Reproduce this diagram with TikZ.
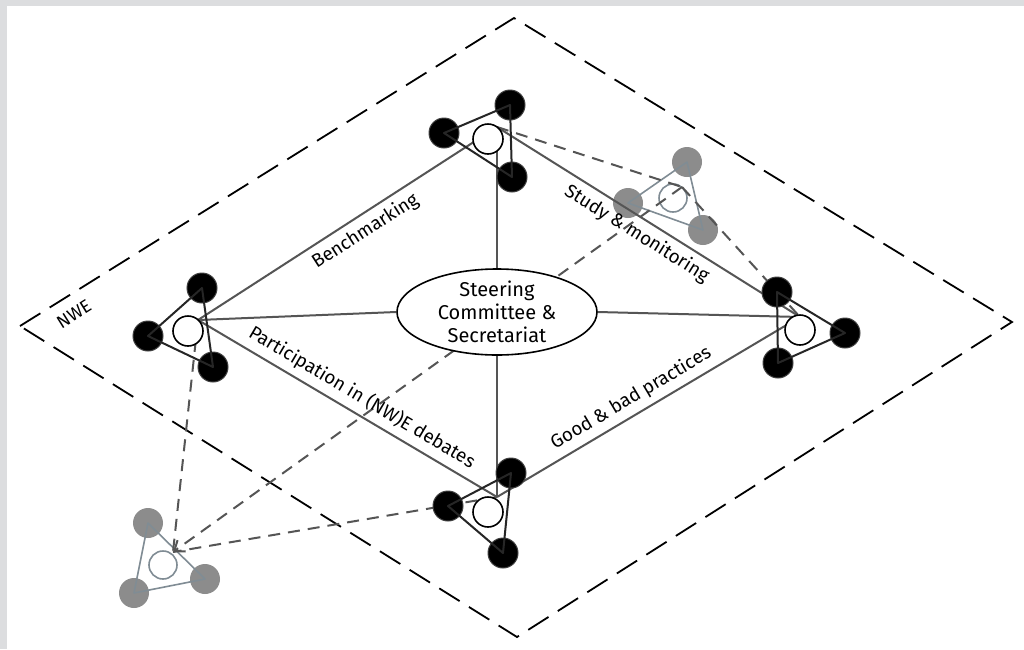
\documentclass[tikz,border=0pt]{standalone}
\usepackage{fontspec}
\setmainfont{Fira Sans}
\usetikzlibrary{arrows.meta,shapes.geometric}

\definecolor{frameGrey}{RGB}{220,221,223}
\definecolor{spokeGrey}{RGB}{85,85,85}
\definecolor{dotGrey}{RGB}{140,140,140}
\definecolor{rimGrey}{RGB}{128,140,148}

\begin{document}
\begin{tikzpicture}[
        x=0.5pt, y=-0.5pt,
        every node/.style={font=\fontsize{9.4}{11}\selectfont},
        nweBorder/.style={black, line width=0.9pt, dash pattern=on 12pt off 5.5pt},
        spokeLine/.style={spokeGrey, line width=1pt},
        linkLine/.style={spokeGrey, line width=1pt, dash pattern=on 6pt off 4pt},
        memberDot/.style={circle, fill=black, draw=black!75, line width=0.5pt, minimum size=15pt, inner sep=0pt},
        hubDot/.style={circle, fill=white, draw=black, line width=0.8pt, minimum size=15pt, inner sep=0pt},
        ghostDot/.style={circle, fill=dotGrey, minimum size=15pt, inner sep=0pt},
        ghostHub/.style={circle, draw=rimGrey, line width=0.8pt, minimum size=14pt, inner sep=0pt},
        triLine/.style={black!85, line width=1pt, line join=round},
        ghostTri/.style={rimGrey, line width=0.8pt, line join=round},
        edgeLabel/.style={sloped, text=black, inner sep=3pt}
    ]
        % frame
        \fill[frameGrey] (0,0) rectangle (1024,649);
        \fill[white] (7,6) rectangle (1024,649);
        \useasboundingbox (0,0) rectangle (1024,649);

        % NWE area
        \coordinate (nweW) at (20,326);
        \coordinate (nweN) at (514,18);
        \coordinate (nweE) at (1012,322);
        \coordinate (nweS) at (517,637);
        \draw[nweBorder] (nweW) -- (nweN) -- (nweE) -- (nweS) -- cycle;
        \node[rotate=32, font=\fontsize{9}{10}\selectfont] (nweLabel) at (74,314) {NWE};

        % meeting points of the links
        \coordinate (hubW) at (198,320);
        \coordinate (hubN) at (497,127);
        \coordinate (hubE) at (800,317);
        \coordinate (hubS) at (497,497);
        \coordinate (ghostHubNE) at (682,187);
        \coordinate (ghostHubSW) at (173,552);

        % outside partners, grey
        \foreach \cl/\ox/\oy/\ax/\ay/\bx/\by/\cx/\cy in {
            NE/673/198/687/162/628/203/703/230,
            SW/163/565/148/523/134/593/205/579}{
            \node[ghostDot] (ghostA\cl) at (\ax,\ay) {};
            \node[ghostDot] (ghostB\cl) at (\bx,\by) {};
            \node[ghostDot] (ghostC\cl) at (\cx,\cy) {};
            \draw[ghostTri] (ghostA\cl.center) -- (ghostB\cl.center) -- (ghostC\cl.center) -- cycle;
            \node[ghostHub] (ghostOpen\cl) at (\ox,\oy) {};
        }

        % dashed exchange links
        \draw[linkLine] (hubN) -- (ghostHubNE);
        \draw[linkLine] (ghostHubNE) -- (hubE);
        \draw[linkLine, -{Straight Barb[length=4.5pt, width=7pt]}] (ghostHubNE) -- (ghostHubSW);
        \draw[linkLine] (hubW) -- (ghostHubSW);
        \draw[linkLine] (hubS) -- (ghostHubSW);

        % steering committee
        \node[ellipse, draw, fill=white, line width=0.8pt, minimum width=100pt, minimum height=43pt, inner sep=0pt] (steer) at (497,312) {};
        \node[align=center, font=\fontsize{10}{11.5}\selectfont] (steerText) at (steer) {Steering\\Committee \&\\Secretariat};

        % spokes and themes
        \draw[spokeLine] (hubW) -- (hubN) node[edgeLabel, below, pos=0.53] {Benchmarking};
        \draw[spokeLine] (hubN) -- (hubE) node[edgeLabel, below, pos=0.49] {Study \& monitoring};
        \draw[spokeLine] (hubW) -- (hubS) node[edgeLabel, above, pos=0.52] {Participation in (NW)E debates};
        \draw[spokeLine] (hubS) -- (hubE) node[edgeLabel, above, pos=0.47] {Good \& bad practices};
        \draw[spokeLine] (steer.north) -- (hubN);
        \draw[spokeLine] (steer.south) -- (hubS);
        \draw[spokeLine] (steer.west) -- (hubW);
        \draw[spokeLine] (steer.east) -- (hubE);

        % member clusters
        \foreach \cl/\ox/\oy/\ax/\ay/\bx/\by/\cx/\cy in {
            N/488/139/510/105/444/133/512/177,
            W/188/331/202/288/148/336/213/367,
            E/800/330/777/292/845/333/778/363,
            S/488/512/511/473/448/506/503/553}{
            \node[memberDot] (memberA\cl) at (\ax,\ay) {};
            \node[memberDot] (memberB\cl) at (\bx,\by) {};
            \node[memberDot] (memberC\cl) at (\cx,\cy) {};
            \draw[triLine] (memberA\cl.center) -- (memberB\cl.center) -- (memberC\cl.center) -- cycle;
            \node[hubDot] (open\cl) at (\ox,\oy) {};
        }
    \end{tikzpicture}
\end{document}
